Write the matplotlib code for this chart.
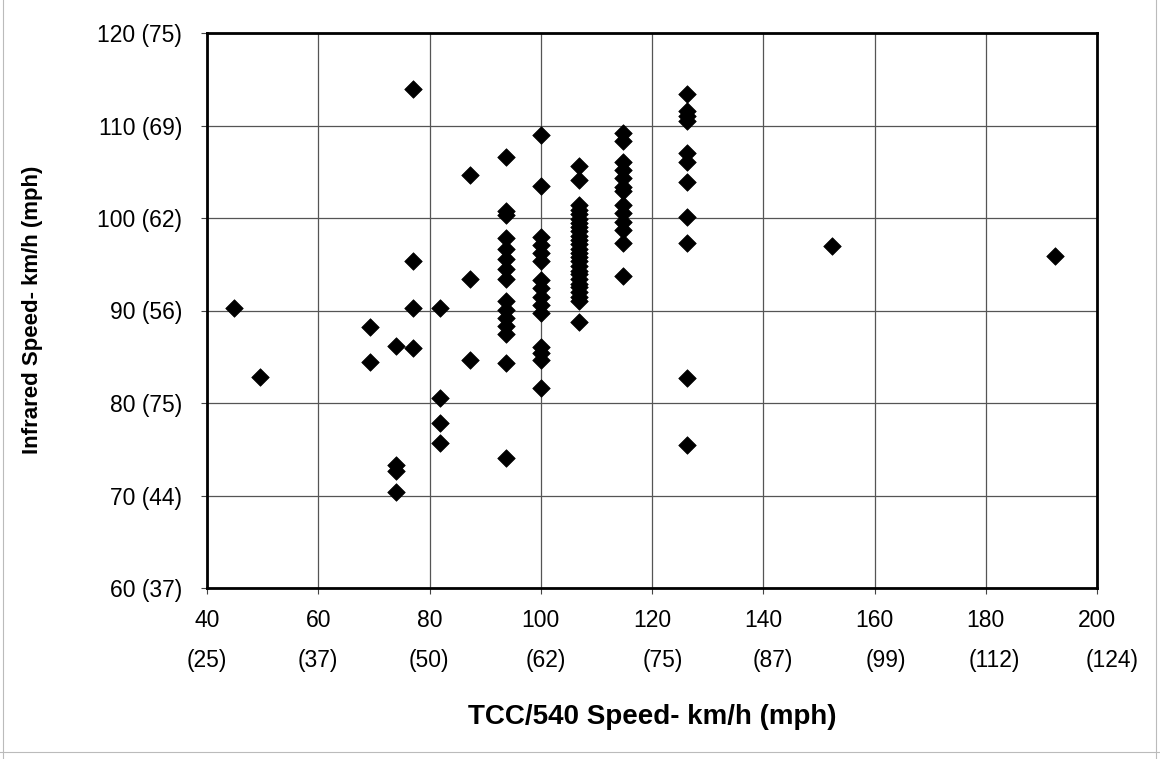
import matplotlib
matplotlib.use("Agg")
import matplotlib.pyplot as plt
import matplotlib.transforms as mtransforms
from matplotlib.lines import Line2D

plt.rcParams['font.family'] = ['Liberation Sans', 'DejaVu Sans']

# ---- data (km/h): TCC speed columns and the infrared readings in each ----
tcc_columns = [44.9, 49.6, 69.3, 74.0, 77.0, 81.8, 87.3, 93.7, 100.0, 106.8,
               114.8, 126.3, 152.4, 192.4]
ir_44_9 = [90.3]
ir_49_6 = [82.8]
ir_69_3 = [88.2, 84.4]
ir_74_0 = [86.2, 73.3, 72.6, 70.4]
ir_77_0 = [114.0, 95.3, 90.3, 86.0]
ir_81_8 = [90.3, 80.5, 77.8, 75.7]
ir_87_3 = [104.7, 93.4, 84.7]
ir_93_7 = [106.6, 100.8, 100.3, 97.8, 96.7, 95.6, 94.5, 93.4, 91.0, 90.1, 89.2,
           88.3, 87.5, 84.3, 74.1]
ir_100_0 = [109.0, 103.5, 98.0, 97.1, 96.2, 95.3, 93.3, 92.4, 91.5, 90.6, 89.7,
            86.1, 85.4, 84.7, 81.6]
ir_106_8 = [105.6, 104.1, 101.4, 100.9, 100.4, 99.9, 99.5, 99.0, 98.6, 98.1, 97.6,
            97.2, 96.7, 96.2, 95.8, 95.3, 94.8, 94.3, 93.9, 93.4, 92.9, 92.5, 92.0,
            91.5, 91.0, 88.8]
ir_114_8 = [109.2, 108.3, 106.1, 105.2, 104.3, 103.4, 102.9, 101.4, 100.5, 99.6,
            98.7, 97.3, 93.7]
ir_126_3 = [113.4, 111.6, 111.0, 110.5, 107.0, 106.1, 103.9, 100.1, 97.3, 82.7, 75.5]
ir_152_4 = [97.0]
ir_192_4 = [95.9]
ir_columns = [ir_44_9, ir_49_6, ir_69_3, ir_74_0, ir_77_0, ir_81_8, ir_87_3, ir_93_7,
              ir_100_0, ir_106_8, ir_114_8, ir_126_3, ir_152_4, ir_192_4]

x_ticks_kmh = [40, 60, 80, 100, 120, 140, 160, 180, 200]
x_ticks_mph = ['(25)', '(37)', '(50)', '(62)', '(75)', '(87)', '(99)', '(112)', '(124)']
y_ticks_kmh = [60, 70, 80, 90, 100, 110, 120]
y_tick_labels = ['60 (37)', '70 (44)', '80 (75)', '90 (56)', '100 (62)', '110 (69)', '120 (75)']

x_label = 'TCC/540 Speed- km/h (mph)'
y_label = 'Infrared Speed- km/h (mph)'

# layout-only: horizontal pixel offsets of the mph labels from their ticks
mph_offsets_px = [0, 0, -1, 5, 11, 10, 11, 9, 15]

tcc_speed = []
infrared_speed = []
for xv, ys in zip(tcc_columns, ir_columns):
    tcc_speed += [xv] * len(ys)
    infrared_speed += ys

W, H = 1160, 759
fig = plt.figure(figsize=(W / 100, H / 100), dpi=100)
fig.patch.set_facecolor('white')

L, R, T, B = 207, 1097, 33, 588
ax = fig.add_axes([L / W, 1 - B / H, (R - L) / W, (B - T) / H])

ax.scatter(tcc_speed, infrared_speed, marker='D', s=80, c='black',
           edgecolors='black', linewidths=0.5, zorder=3)

ax.set_xlim(40, 200)
ax.set_ylim(60, 120)
ax.set_xticks(x_ticks_kmh)
ax.set_xticklabels([str(v) for v in x_ticks_kmh], fontsize=16.5)
ax.set_yticks(y_ticks_kmh)
ax.set_yticklabels(y_tick_labels, fontsize=16.5)
ax.tick_params(axis='both', direction='out', length=4, width=0.8, color='#444444')
ax.tick_params(axis='x', pad=11)
ax.tick_params(axis='y', pad=14)

ax.grid(True, color='#555555', linewidth=0.9)
ax.set_axisbelow(True)
for sp in ax.spines.values():
    sp.set_linewidth(2.0)
    sp.set_color('black')

# mph labels under km/h tick labels
trans = mtransforms.blended_transform_factory(ax.transData, fig.transFigure)
for xv, lab, off in zip(x_ticks_kmh, x_ticks_mph, mph_offsets_px):
    t = mtransforms.offset_copy(trans, fig=fig, x=off, y=0, units='dots')
    ax.text(xv, 1 - 661 / H, lab, transform=t, ha='center', va='center',
            fontsize=16.5, clip_on=False)

fig.text(652 / W, 1 - 717 / H, x_label, ha='center', va='center',
         fontsize=20, fontweight='bold')
fig.text(33 / W, 1 - 310 / H, y_label, ha='center', va='center',
         rotation=90, fontsize=16, fontweight='bold')

# faint border of the figure (scan frame)
for xs, ys in [([3 / W, 3 / W], [0, 1]), ([1156 / W, 1156 / W], [0, 1]),
               ([0, 1], [1 - 752 / H, 1 - 752 / H])]:
    fig.add_artist(Line2D(xs, ys, transform=fig.transFigure, color='#bbbbbb',
                          linewidth=0.8))

fig.savefig('out.png', dpi=100)
